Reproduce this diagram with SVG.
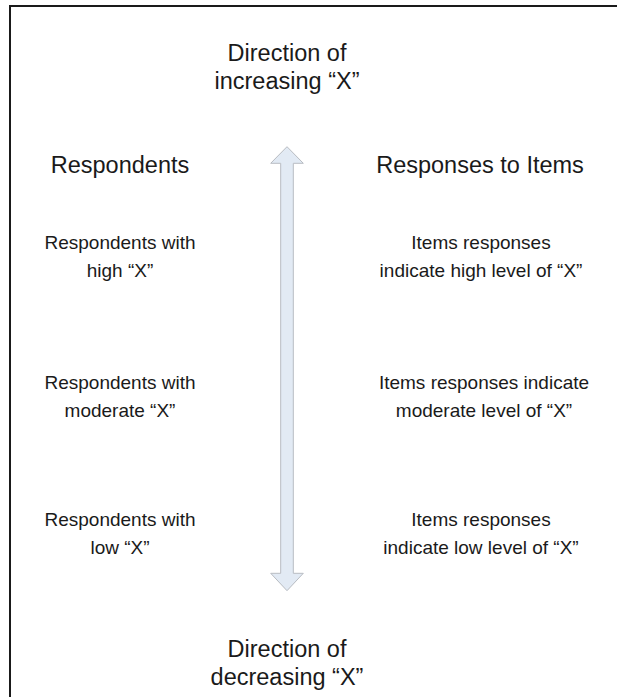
<svg xmlns="http://www.w3.org/2000/svg" width="617" height="697" viewBox="0 0 617 697">
<style>
text{font-family:"Liberation Sans",Arial,sans-serif;fill:#1a1a1a;text-anchor:middle}
.big{font-size:23.5px}
.sm{font-size:19px}
.frame{stroke:#1a1a1a;stroke-width:2;fill:none}
.arrow{fill:#e2eaf4;stroke:#b8bcc2;stroke-width:1}
</style>
<rect width="617" height="697" fill="#ffffff"/>
<path class="frame" d="M10,697 V6 H617"/>
<g id="connectors">
<path class="arrow" d="M287,146.7 L303.3,163.3 L293.3,163.3 L293.3,573.3 L303.3,573.3 L287,590.7 L270.7,573.3 L280.7,573.3 L280.7,163.3 L270.7,163.3 Z"/>
</g>
<g id="top-title"><text class="big" x="287" y="61">Direction of</text><text class="big" x="287" y="89">increasing “X”</text></g>
<g id="bottom-title"><text class="big" x="287" y="657">Direction of</text><text class="big" x="287" y="685">decreasing “X”</text></g>
<g id="respondents-header"><text class="big" x="120" y="173">Respondents</text></g>
<g id="responses-header"><text class="big" x="480" y="173">Responses to Items</text></g>
<g id="resp-high"><text class="sm" x="120" y="249">Respondents with</text><text class="sm" x="120" y="277">high “X”</text></g>
<g id="resp-moderate"><text class="sm" x="120" y="389">Respondents with</text><text class="sm" x="120" y="417">moderate “X”</text></g>
<g id="resp-low"><text class="sm" x="120" y="526">Respondents with</text><text class="sm" x="120" y="554">low “X”</text></g>
<g id="item-high"><text class="sm" x="481" y="249">Items responses</text><text class="sm" x="481" y="277">indicate high level of “X”</text></g>
<g id="item-moderate"><text class="sm" x="484" y="389">Items responses indicate</text><text class="sm" x="484" y="417">moderate level of “X”</text></g>
<g id="item-low"><text class="sm" x="481" y="526">Items responses</text><text class="sm" x="481" y="554">indicate low level of “X”</text></g>
</svg>
